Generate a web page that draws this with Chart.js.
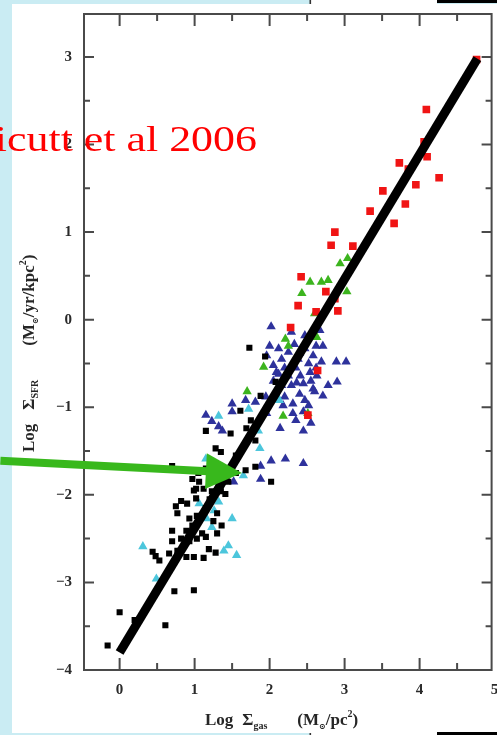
<!DOCTYPE html>
<html>
<head>
<meta charset="utf-8">
<script src="https://cdn.jsdelivr.net/npm/chart.js@4/dist/chart.umd.min.js"></script>
<style>
  html, body { margin: 0; padding: 0; background: #caecf3; overflow: hidden; }
  #c { position: absolute; left: 0; top: 0; display: block; }
</style>
</head>
<body>
<canvas id="c" width="497" height="735"></canvas>
<script>
// Star-formation law: log SFR surface density vs log gas surface density

// Axis ticks
const xMajorTicks = [0, 1, 2, 3, 4, 5];
const xMinorTicks = [0.5, 1.5, 2.5, 3.5, 4.5];
const yMajorTicks = [-4, -3, -2, -1, 0, 1, 2, 3];
const yMinorTicks = [-3.5, -2.5, -1.5, -0.5, 0.5, 1.5, 2.5];

// Fitted relation (slope ~1.4)
const fitX = [0, 4.77];
const fitY = [-3.8, 2.98];

// Circumnuclear starbursts (red squares)
const starbursts = [
  [4.76, 2.97], [4.09, 2.40], [4.06, 2.03], [4.10, 1.86], [4.26, 1.62], [3.95, 1.54],
  [3.73, 1.79], [3.85, 1.72], [3.81, 1.32], [3.51, 1.47], [3.34, 1.24], [3.66, 1.10],
  [2.87, 1.00], [2.82, 0.85], [3.11, 0.84], [2.42, 0.49], [2.75, 0.32], [2.87, 0.24],
  [2.38, 0.16], [2.91, 0.10], [2.62, 0.09], [2.28, -0.09], [2.64, -0.58], [2.51, -1.09]
];

// Green triangles
const greenSample = [
  [3.04, 0.70], [2.94, 0.64], [2.54, 0.43], [2.69, 0.43], [2.78, 0.45], [2.43, 0.30],
  [3.03, 0.32], [2.60, 0.07], [2.21, -0.22], [2.25, -0.30], [2.63, -0.20], [1.92, -0.54],
  [1.70, -0.82], [2.18, -1.10], [2.51, -1.07]
];

// Light-blue triangles
const cyanSample = [
  [1.32, -1.10], [1.72, -1.02], [2.13, -0.92], [1.85, -1.27], [1.87, -1.47], [1.15, -1.59],
  [1.65, -1.78], [1.06, -2.10], [1.32, -2.08], [1.50, -2.27], [1.16, -2.27], [1.23, -2.37],
  [0.31, -2.59], [1.45, -2.58], [1.56, -2.69], [1.39, -2.64], [0.49, -2.96], [1.26, -2.18]
];

// Dark-blue triangles
const blueSample = [
  [2.02, -0.08], [2.29, -0.14], [2.47, -0.18], [2.67, -0.12], [2.62, -0.30], [2.71, -0.30],
  [1.96, -0.41], [2.12, -0.33], [2.16, -0.45], [2.25, -0.37], [2.38, -0.45], [2.47, -0.33],
  [2.58, -0.41], [2.69, -0.48], [2.89, -0.48], [3.02, -0.48], [2.09, -0.60], [2.25, -0.64],
  [2.41, -0.64], [2.54, -0.60], [2.63, -0.64], [2.90, -0.71], [2.78, -0.75], [2.16, -0.75],
  [2.29, -0.75], [2.45, -0.73], [2.58, -0.79], [2.71, -0.87], [2.60, -0.82], [2.47, -0.92],
  [2.31, -0.96], [2.18, -0.98], [2.45, -1.05], [2.31, -1.07], [1.50, -0.96], [1.81, -0.94],
  [1.15, -1.09], [1.50, -1.05], [1.96, -1.07], [2.14, -1.24], [2.45, -1.27], [1.23, -1.16],
  [1.37, -1.27], [1.32, -1.22], [2.02, -1.61], [2.21, -1.59], [2.45, -1.64], [1.88, -1.67],
  [1.88, -1.82], [1.52, -1.85], [1.68, -0.92], [2.00, -0.30], [2.05, -0.52], [2.35, -0.55],
  [2.20, -0.55], [2.05, -0.70], [2.40, -0.85], [2.55, -0.70], [1.95, -0.88], [2.10, -0.88],
  [2.35, -1.15], [2.55, -1.18], [2.33, -0.28], [2.52, -0.50], [2.40, -0.38], [2.62, -0.55],
  [2.20, -0.88], [2.52, -0.98], [2.12, -0.62], [2.36, -0.72]
];

// Normal disks (black squares)
const diskGalaxies = [
  [1.73, -0.32], [1.94, -0.42], [2.08, -0.71], [1.88, -0.87], [1.61, -1.04], [1.75, -1.15],
  [1.15, -1.27], [1.48, -1.30], [1.69, -1.24], [1.81, -1.38], [1.28, -1.47], [1.35, -1.51],
  [0.70, -1.67], [1.81, -1.68], [2.02, -1.85], [0.97, -1.82], [1.06, -1.85], [1.02, -1.93],
  [1.23, -1.96], [1.41, -1.99], [1.68, -1.72], [0.99, -1.95], [1.12, -1.93], [1.35, -1.96],
  [0.75, -2.13], [0.90, -2.10], [0.82, -2.07], [1.02, -2.04], [0.77, -2.21], [0.93, -2.27],
  [1.03, -2.24], [0.70, -2.41], [0.89, -2.41], [0.97, -2.35], [1.10, -2.44], [1.30, -2.21],
  [1.36, -2.35], [1.30, -2.44], [0.70, -2.53], [0.82, -2.50], [0.93, -2.53], [1.03, -2.50],
  [1.15, -2.48], [0.66, -2.67], [0.77, -2.64], [0.89, -2.71], [0.99, -2.71], [1.12, -2.72],
  [0.44, -2.65], [0.53, -2.75], [0.48, -2.70], [0.73, -3.10], [0.99, -3.09], [0.00, -3.34],
  [0.20, -3.43], [0.61, -3.49], [-0.16, -3.72], [1.19, -2.62], [1.28, -2.66], [1.25, -2.30],
  [1.15, -2.15], [1.20, -1.80], [1.30, -1.75], [1.15, -1.70], [1.40, -1.70], [1.05, -1.75],
  [1.20, -2.05], [1.32, -1.90], [1.45, -1.85], [1.55, -1.75], [1.55, -1.55]
];

// Annotation arrow (data coordinates) and caption
const arrowFrom = [-1.59, -1.61];
const arrowTo = [1.63, -1.75];
const captionText = 'Kennicutt et al 2006';

const pts = arr => arr.map(p => ({ x: p[0], y: p[1] }));

const W = 497, H = 735;
const AXIS_FONT = '"Liberation Serif", "DejaVu Serif", serif';

function drawRich(ctx, segs) {
  let x = 0;
  for (const s of segs) {
    if (s.gap) { x += s.gap; continue; }
    ctx.font = 'bold ' + s.s + 'px ' + AXIS_FONT;
    ctx.fillText(s.t, x, s.dy || 0);
    x += ctx.measureText(s.t).width;
  }
}

const decor = {
  id: 'decor',
  beforeDraw(chart) {
    const c = chart.ctx;
    c.save();
    c.fillStyle = '#caecf3';
    c.fillRect(0, 0, W, H);
    c.fillStyle = '#ffffff';
    c.fillRect(12, 4, W - 12, 729);
    c.fillRect(311, 0, 126, H);
    c.fillStyle = '#000000';
    c.fillRect(437, 0, 60, 3);
    c.fillRect(437, 732, 60, 3);
    c.fillStyle = '#333333';
    c.fillRect(309.5, 0, 1.6, 4);
    c.fillRect(309.5, 733, 1.6, 2);
    c.restore();
  },
  beforeDatasetsDraw(chart) {
    const c = chart.ctx;
    const a = chart.chartArea;
    const xs = chart.scales.x, ys = chart.scales.y;
    c.save();
    c.strokeStyle = '#4a4a4a';
    c.lineWidth = 2;
    c.strokeRect(a.left, a.top, a.right - a.left, a.bottom - a.top);
    c.beginPath();
    const xt = (v, len) => {
      const p = xs.getPixelForValue(v);
      if (p <= a.left + 1 || p >= a.right - 1) return;
      c.moveTo(p, a.bottom); c.lineTo(p, a.bottom - len);
      c.moveTo(p, a.top); c.lineTo(p, a.top + len);
    };
    const yt = (v, len) => {
      const p = ys.getPixelForValue(v);
      if (p <= a.top + 1 || p > a.bottom + 1) return;
      c.moveTo(a.left, p); c.lineTo(a.left + len, p);
      c.moveTo(a.right, p); c.lineTo(a.right - len, p);
    };
    xMajorTicks.forEach(v => xt(v, 12));
    xMinorTicks.forEach(v => xt(v, 7));
    yMajorTicks.forEach(v => yt(v, 10));
    yMinorTicks.forEach(v => yt(v, 6));
    c.stroke();
    c.restore();
  },
  afterDraw(chart) {
    const c = chart.ctx;
    const xs = chart.scales.x, ys = chart.scales.y;
    c.save();

    // axis titles
    c.fillStyle = '#262626';
    c.textBaseline = 'alphabetic';
    c.save();
    c.translate(205, 725);
    drawRich(c, [
      { t: 'Log', s: 17 }, { gap: 9 }, { t: 'Σ', s: 17 }, { t: 'gas', s: 10, dy: 4 },
      { gap: 30 }, { t: '(M', s: 17 }, { t: '⊙', s: 8, dy: 4 }, { t: '/pc', s: 17 },
      { t: '2', s: 10, dy: -8 }, { t: ')', s: 17 }
    ]);
    c.restore();
    c.save();
    c.translate(34, 452);
    c.rotate(-Math.PI / 2);
    drawRich(c, [
      { t: 'Log', s: 17 }, { gap: 14 }, { t: 'Σ', s: 17 }, { t: 'SFR', s: 10, dy: 4 },
      { gap: 34 }, { t: '(M', s: 17 }, { t: '⊙', s: 8, dy: 4 }, { t: '/yr/kpc', s: 17 },
      { t: '2', s: 10, dy: -8 }, { t: ')', s: 17 }
    ]);
    c.restore();

    // green arrow
    const x0 = xs.getPixelForValue(arrowFrom[0]), y0 = ys.getPixelForValue(arrowFrom[1]);
    const x1 = xs.getPixelForValue(arrowTo[0]), y1 = ys.getPixelForValue(arrowTo[1]);
    const ang = Math.atan2(y1 - y0, x1 - x0);
    const headLen = 36, headHalf = 18;
    const bx = x1 - headLen * Math.cos(ang), by = y1 - headLen * Math.sin(ang);
    c.strokeStyle = '#38b81c';
    c.fillStyle = '#38b81c';
    c.lineWidth = 8;
    c.beginPath();
    c.moveTo(x0, y0);
    c.lineTo(bx + 2 * Math.cos(ang), by + 2 * Math.sin(ang));
    c.stroke();
    c.beginPath();
    c.moveTo(x1, y1);
    c.lineTo(bx - headHalf * Math.sin(ang), by + headHalf * Math.cos(ang));
    c.lineTo(bx + headHalf * Math.sin(ang), by - headHalf * Math.cos(ang));
    c.closePath();
    c.fill();

    // caption
    c.fillStyle = '#ff0000';
    c.font = '36px "Liberation Serif", "Times New Roman", serif';
    c.textAlign = 'right';
    c.translate(257, 151);
    c.scale(1.22, 1);
    c.fillText(captionText, 0, 0);
    c.restore();
  }
};

const tickFont = { family: AXIS_FONT, size: 15, weight: 'bold' };
const fmt = v => (v < 0 ? '\u2212' + Math.abs(v) : String(v));

new Chart(document.getElementById('c'), {
  type: 'scatter',
  data: {
    datasets: [
      {
        label: 'fit',
        data: fitX.map((x, i) => ({ x, y: fitY[i] })),
        showLine: true,
        borderColor: '#000000',
        borderWidth: 9,
        borderCapStyle: 'butt',
        pointRadius: 0,
        clip: false
      },
      {
        label: 'disks',
        data: pts(diskGalaxies),
        pointStyle: 'rect',
        pointRadius: 4.3,
        pointBorderWidth: 0,
        backgroundColor: '#000000'
      },
      {
        label: 'starbursts',
        data: pts(starbursts),
        pointStyle: 'rect',
        pointRadius: 5.4,
        pointBorderWidth: 0,
        backgroundColor: '#f01414'
      },
      {
        label: 'green',
        data: pts(greenSample),
        pointStyle: 'triangle',
        pointRadius: 5.4,
        pointBorderWidth: 0,
        backgroundColor: '#3cb41e'
      },
      {
        label: 'cyan',
        data: pts(cyanSample),
        pointStyle: 'triangle',
        pointRadius: 5.4,
        pointBorderWidth: 0,
        backgroundColor: '#4cc6dc'
      },
      {
        label: 'blue',
        data: pts(blueSample),
        pointStyle: 'triangle',
        pointRadius: 5.4,
        pointBorderWidth: 0,
        backgroundColor: '#2e329c'
      }
    ]
  },
  options: {
    responsive: false,
    animation: false,
    devicePixelRatio: 1,
    layout: { padding: { left: 0, top: 14, right: 1, bottom: 0 } },
    plugins: { legend: { display: false }, tooltip: { enabled: false } },
    scales: {
      x: {
        type: 'linear',
        min: -0.475,
        max: 4.96,
        grid: { display: false, drawTicks: false },
        border: { display: false },
        afterBuildTicks: s => { s.ticks = xMajorTicks.map(v => ({ value: v })); },
        afterFit: s => { s.height = 65; s.paddingLeft = 0; s.paddingRight = 0; },
        ticks: {
          autoSkip: false,
          maxRotation: 0,
          padding: 11,
          color: '#2a2a2a',
          font: tickFont,
          callback: v => fmt(v)
        }
      },
      y: {
        type: 'linear',
        min: -4,
        max: 3.49,
        grid: { display: false, drawTicks: false },
        border: { display: false },
        afterBuildTicks: s => { s.ticks = yMajorTicks.map(v => ({ value: v })); },
        afterFit: s => { s.width = 84; s.paddingTop = 0; s.paddingBottom = 0; },
        ticks: {
          autoSkip: false,
          padding: 12,
          color: '#2a2a2a',
          font: tickFont,
          callback: v => fmt(v)
        }
      }
    }
  },
  plugins: [decor]
});
</script>
</body>
</html>
